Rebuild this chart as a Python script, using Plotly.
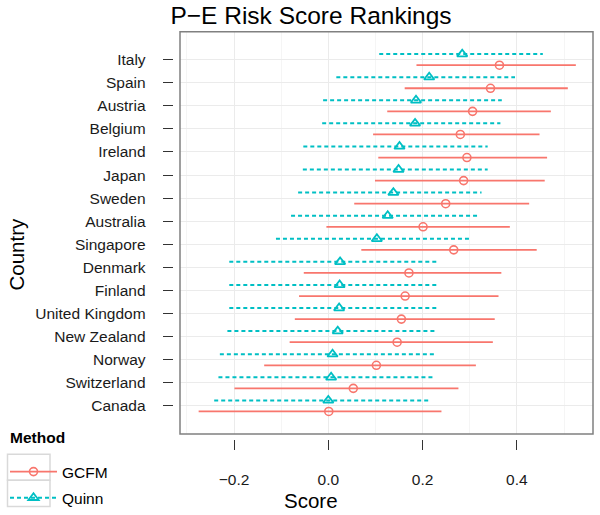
import plotly.graph_objects as go

countries = ["Italy", "Spain", "Austria", "Belgium", "Ireland", "Japan", "Sweden",
             "Australia", "Singapore", "Denmark", "Finland", "United Kingdom",
             "New Zealand", "Norway", "Switzerland", "Canada"]

gcfm_mean = [0.363, 0.344, 0.306, 0.280, 0.294, 0.287, 0.249, 0.201, 0.266, 0.171,
             0.163, 0.155, 0.146, 0.102, 0.053, 0.001]
gcfm_lo = [0.187, 0.162, 0.125, 0.095, 0.106, 0.099, 0.055, -0.004, 0.070, -0.052,
           -0.062, -0.071, -0.082, -0.136, -0.199, -0.275]
gcfm_hi = [0.525, 0.508, 0.472, 0.448, 0.464, 0.459, 0.426, 0.385, 0.442, 0.367,
           0.361, 0.353, 0.349, 0.313, 0.276, 0.240]

quinn_mean = [0.284, 0.214, 0.186, 0.184, 0.151, 0.149, 0.138, 0.126, 0.103, 0.025,
              0.024, 0.023, 0.020, 0.009, 0.006, 0.000]
quinn_lo = [0.108, 0.017, -0.011, -0.013, -0.053, -0.054, -0.064, -0.079, -0.111, -0.210,
            -0.210, -0.210, -0.214, -0.230, -0.233, -0.242]
quinn_hi = [0.455, 0.396, 0.368, 0.365, 0.338, 0.338, 0.325, 0.316, 0.302, 0.235,
            0.235, 0.235, 0.231, 0.224, 0.221, 0.216]

x_ticks = [-0.2, 0.0, 0.2, 0.4]
x_ticklabels = ["\u22120.2", "0.0", "0.2", "0.4"]

GCFM_COLOR = "#F8766D"
QUINN_COLOR = "#00BFC4"
FONT = "Liberation Sans, Arial, sans-serif"
W, H = 600, 515

n = len(countries)
pos = [n - 1 - i for i in range(n)]
dodge = 0.24
pos_q = [p + dodge for p in pos]
pos_g = [p - dodge for p in pos]


def seg(lo, hi, ys):
    xs, yy = [], []
    for a, b, y in zip(lo, hi, ys):
        xs += [a, b, None]
        yy += [y, y, None]
    return xs, yy


fig = go.Figure()

xg, yg = seg(gcfm_lo, gcfm_hi, pos_g)
xq, yq = seg(quinn_lo, quinn_hi, pos_q)

fig.add_trace(go.Scatter(x=xq, y=yq, mode="lines", showlegend=False, hoverinfo="skip",
                         line=dict(color=QUINN_COLOR, width=2, dash="4px,3px")))
fig.add_trace(go.Scatter(x=quinn_mean, y=pos_q, mode="markers", showlegend=False,
                         marker=dict(symbol="triangle-up-open", size=9, color=QUINN_COLOR,
                                     line=dict(width=1.8, color=QUINN_COLOR))))
fig.add_trace(go.Scatter(x=xg, y=yg, mode="lines", showlegend=False, hoverinfo="skip",
                         line=dict(color=GCFM_COLOR, width=1.8)))
fig.add_trace(go.Scatter(x=gcfm_mean, y=pos_g, mode="markers", showlegend=False,
                         marker=dict(symbol="circle-open", size=8, color=GCFM_COLOR,
                                     line=dict(width=1.6, color=GCFM_COLOR))))

# legend entries
fig.add_trace(go.Scatter(x=[None], y=[None], mode="lines+markers", name="GCFM",
                         legendgroup="g",
                         line=dict(color=GCFM_COLOR, width=1.8),
                         marker=dict(symbol="circle-open", size=8, color=GCFM_COLOR,
                                     line=dict(width=1.6, color=GCFM_COLOR))))
fig.add_trace(go.Scatter(x=[None], y=[None], mode="lines+markers", name="Quinn",
                         legendgroup="q",
                         line=dict(color=QUINN_COLOR, width=2, dash="4px,3px"),
                         marker=dict(symbol="triangle-up-open", size=9, color=QUINN_COLOR,
                                     line=dict(width=1.8, color=QUINN_COLOR))))

px_x = lambda p: p / W
px_y = lambda p: 1 - p / H

x0px, x1px = 180, 593
y0px, y1px = 32, 436.5
unit = 471.5
zero_px = 328.3
xr = [(x0px - zero_px) / unit, (x1px - zero_px) / unit]
row = (408.3 - 60) / 15
yr = [0 - (y1px - 408.3) / row, (n - 1) + (60 - y0px) / row]

fig.update_layout(
    width=W, height=H,
    margin=dict(l=0, r=0, t=0, b=0),
    paper_bgcolor="white", plot_bgcolor="white",
    font=dict(family=FONT, color="black"),
    xaxis=dict(domain=[px_x(x0px), px_x(x1px)], range=xr, anchor="free",
               position=px_y(442), tickvals=x_ticks, ticktext=x_ticklabels,
               ticks="outside", ticklen=10, tickwidth=1, tickcolor="#333333",
               showline=False, zeroline=False, showgrid=True, gridcolor="#EBEBEB",
               gridwidth=1,
               minor=dict(dtick=0.1, tick0=0, showgrid=True, gridcolor="#F5F5F5",
                          gridwidth=1, ticks=""),
               tickfont=dict(size=15.5, color="#1a1a1a"), ticklabelstandoff=16),
    yaxis=dict(domain=[px_y(y1px), px_y(y0px)], range=yr, anchor="free",
               position=px_x(172.7), tickvals=pos, ticktext=countries,
               ticks="outside", ticklen=10, tickwidth=1, tickcolor="#333333",
               showline=False, zeroline=False, showgrid=True, gridcolor="#EBEBEB",
               gridwidth=1,
               tickfont=dict(size=15.5, color="#1a1a1a"), ticklabelstandoff=14),
    title=dict(text="P\u2212E Risk Score Rankings", x=px_x(311), xanchor="center",
               y=px_y(15), yanchor="middle", yref="container", xref="paper",
               font=dict(size=24.5, family=FONT, color="black")),
    legend=dict(x=px_x(5), xanchor="left", y=px_y(458), yanchor="top",
                font=dict(size=15.5), tracegroupgap=3, itemwidth=47,
                bgcolor="rgba(0,0,0,0)"),
    shapes=[
        dict(type="rect", xref="paper", yref="paper", x0=px_x(x0px), x1=px_x(x1px),
             y0=px_y(y1px), y1=px_y(y0px), line=dict(color="#808080", width=1.5),
             layer="above"),
        dict(type="rect", xref="paper", yref="paper", x0=px_x(7.5), x1=px_x(50),
             y0=px_y(483), y1=px_y(457), line=dict(color="#D9D9D9", width=1.5),
             layer="below"),
        dict(type="rect", xref="paper", yref="paper", x0=px_x(7.5), x1=px_x(50),
             y0=px_y(509.5), y1=px_y(483), line=dict(color="#D9D9D9", width=1.5),
             layer="below"),
    ],
    annotations=[
        dict(text="<b>Method</b>", x=px_x(8), y=px_y(440), xref="paper", yref="paper",
             xanchor="left", yanchor="middle", showarrow=False,
             font=dict(size=15.5, color="black")),
        dict(text="Score", x=px_x(311), y=px_y(503), xref="paper", yref="paper",
             xanchor="center", yanchor="middle", showarrow=False,
             font=dict(size=20.5, color="black")),
        dict(text="Country", x=px_x(17), y=px_y(256), xref="paper", yref="paper",
             xanchor="center", yanchor="middle", showarrow=False, textangle=-90,
             font=dict(size=20.5, color="black")),
    ],
)

fig.write_html("out.html", config={"displayModeBar": False},
               post_script="document.body.style.margin='0';document.body.style.overflow='hidden';")
